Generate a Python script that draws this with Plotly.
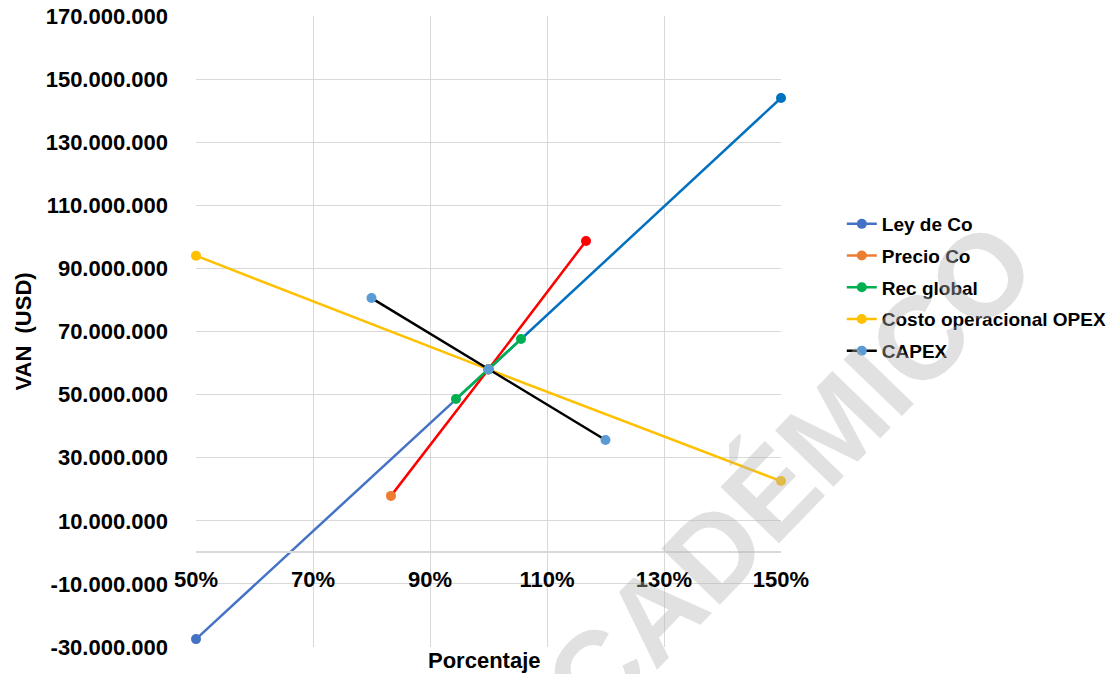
import plotly.graph_objects as go

# ---- data ----
series_names = ["Ley de Co", "Precio Co", "Rec global", "Costo operacional OPEX", "CAPEX"]

ley_x = [0.50, 1.00, 1.50]
ley_y = [-27_500_000, 58_000_000, 144_000_000]

precio_x = [0.8333, 1.00, 1.1667]
precio_y = [17_900_000, 58_000_000, 98_700_000]

rec_x = [0.9444, 1.00, 1.0556]
rec_y = [48_600_000, 58_000_000, 67_600_000]

opex_x = [0.50, 1.00, 1.50]
opex_y = [94_000_000, 58_000_000, 22_600_000]

capex_x = [0.80, 1.00, 1.20]
capex_y = [80_600_000, 58_000_000, 35_600_000]

x_tick_vals = [0.5, 0.7, 0.9, 1.1, 1.3, 1.5]
x_tick_labels = ["50%", "70%", "90%", "110%", "130%", "150%"]
y_tick_vals = [-30_000_000, -10_000_000, 10_000_000, 30_000_000, 50_000_000,
               70_000_000, 90_000_000, 110_000_000, 130_000_000, 150_000_000, 170_000_000]
y_tick_labels = [f"{v:,}".replace(",", ".") for v in y_tick_vals]

# ---- styles ----
FONT = "Liberation Sans"
GRID = "#D9D9D9"
LW = 2.5
MS = 10

fig = go.Figure()

# plotted traces (legend handled separately)
fig.add_trace(go.Scatter(x=ley_x[:2], y=ley_y[:2], mode="lines+markers",
                         line=dict(color="#4472C4", width=LW),
                         marker=dict(color="#4472C4", size=MS),
                         showlegend=False, cliponaxis=False, hoverinfo="skip"))
fig.add_trace(go.Scatter(x=ley_x[1:], y=ley_y[1:], mode="lines+markers",
                         line=dict(color="#0070C0", width=LW),
                         marker=dict(color="#0070C0", size=MS),
                         showlegend=False, cliponaxis=False, hoverinfo="skip"))
fig.add_trace(go.Scatter(x=precio_x, y=precio_y, mode="lines+markers",
                         line=dict(color="#FF0000", width=LW),
                         marker=dict(color=["#ED7D31", "#FF0000", "#FF0000"], size=MS),
                         showlegend=False, cliponaxis=False, hoverinfo="skip"))
fig.add_trace(go.Scatter(x=rec_x, y=rec_y, mode="lines+markers",
                         line=dict(color="#00B050", width=LW),
                         marker=dict(color="#00B050", size=MS),
                         showlegend=False, cliponaxis=False, hoverinfo="skip"))
fig.add_trace(go.Scatter(x=opex_x, y=opex_y, mode="lines+markers",
                         line=dict(color="#FFC000", width=LW),
                         marker=dict(color="#FFC000", size=MS),
                         showlegend=False, cliponaxis=False, hoverinfo="skip"))
fig.add_trace(go.Scatter(x=capex_x, y=capex_y, mode="lines+markers",
                         line=dict(color="#000000", width=LW),
                         marker=dict(color="#5B9BD5", size=MS),
                         showlegend=False, cliponaxis=False, hoverinfo="skip"))

# legend entries
legend_line = ["#4472C4", "#ED7D31", "#00B050", "#FFC000", "#000000"]
legend_marker = ["#4472C4", "#ED7D31", "#00B050", "#FFC000", "#5B9BD5"]
for name, lc, mc in zip(series_names, legend_line, legend_marker):
    fig.add_trace(go.Scatter(x=[None], y=[None], mode="lines+markers", name=name,
                             legendgroup=name,
                             line=dict(color=lc, width=LW),
                             marker=dict(color=mc, size=MS)))

fig.update_layout(
    width=1112, height=674,
    margin=dict(l=196, r=331, t=16, b=27, autoexpand=False),
    plot_bgcolor="white", paper_bgcolor="white",
    font=dict(family=FONT, color="black"),
    xaxis=dict(range=[0.5, 1.5], tickvals=x_tick_vals, ticktext=x_tick_labels,
               anchor="free", position=0.15, automargin=False,
               showgrid=True, gridcolor=GRID, gridwidth=1,
               showline=True, linecolor=GRID, linewidth=1.5,
               zeroline=False, ticks="", ticklabelstandoff=7,
               tickfont=dict(family=FONT, size=22, color="black", weight="bold")),
    yaxis=dict(range=[-30_000_000, 170_000_000], tickvals=y_tick_vals, ticktext=y_tick_labels,
               automargin=False,
               showgrid=True, gridcolor=GRID, gridwidth=1,
               zeroline=False, showline=False, ticks="", ticklabelstandoff=27,
               tickfont=dict(family=FONT, size=22, color="black", weight="bold")),
    legend=dict(xref="container", yref="container", x=0.757, y=1 - 205 / 674,
                xanchor="left", yanchor="top", bgcolor="rgba(0,0,0,0)",
                tracegroupgap=4,
                font=dict(family=FONT, size=19, color="black", weight="bold")),
    annotations=[
        dict(text="Porcentaje", xref="paper", yref="paper", x=(484 - 196) / 585,
             y=-(660 - 647) / 631,
             xanchor="center", yanchor="middle", showarrow=False,
             font=dict(family=FONT, size=22, color="black", weight="bold")),
        dict(text="VAN  (USD)", xref="paper", yref="paper", x=(23 - 196) / 585, y=0.5,
             xanchor="center", yanchor="middle", textangle=-90, showarrow=False,
             font=dict(family=FONT, size=22, color="black", weight="bold")),
        dict(text="ACADÉMICO", xref="paper", yref="paper",
             x=(760 - 196) / 585, y=(647 - 504) / 631,
             xanchor="center", yanchor="middle", textangle=-46, showarrow=False,
             font=dict(family=FONT, size=118, color="rgba(180,180,180,0.4)", weight="bold")),
    ],
)

fig.write_html("out.html", config={"displayModeBar": False},
               post_script="document.body.style.margin='0';")
